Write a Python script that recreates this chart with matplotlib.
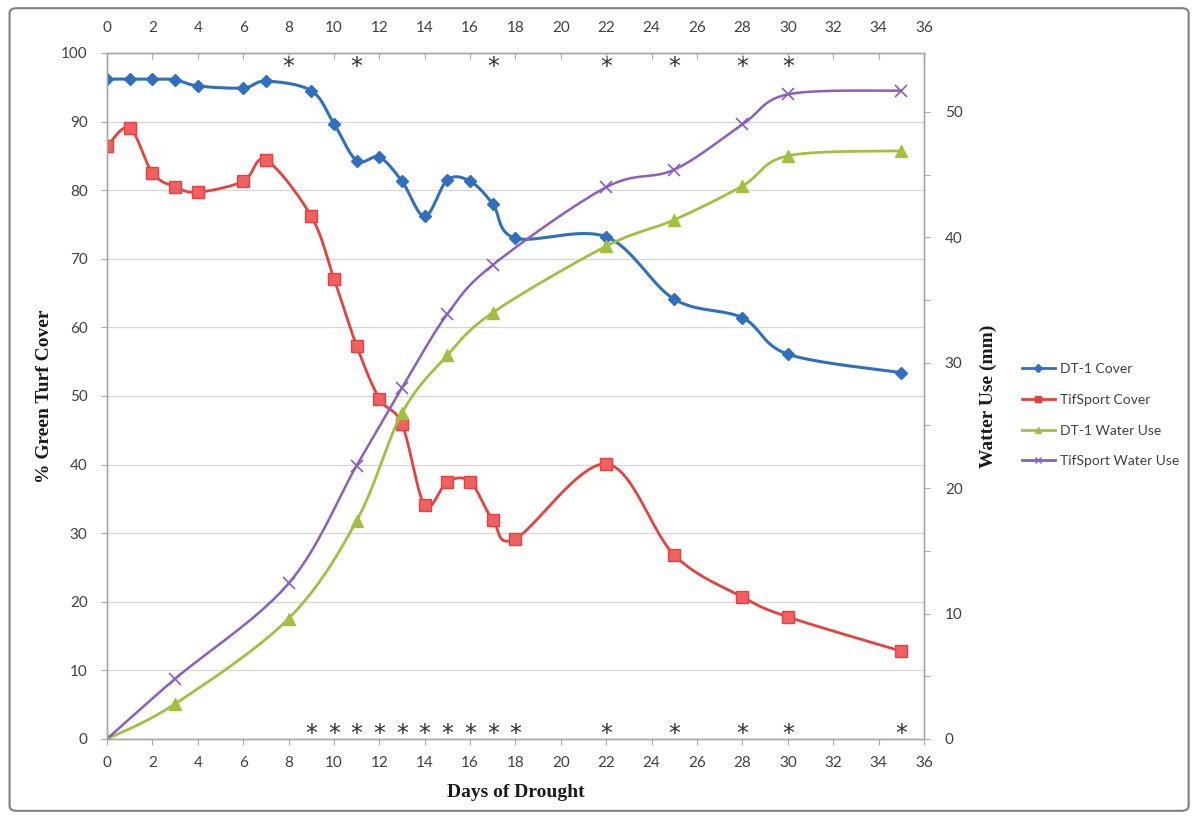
import numpy as np
import matplotlib
matplotlib.use("Agg")
import matplotlib.pyplot as plt
from matplotlib.patches import FancyBboxPatch

# Days of drought
days_cover = [0, 1, 2, 3, 4, 6, 7, 9, 10, 11, 12, 13, 14, 15, 16, 17, 18, 22, 25, 28, 30, 35]
dt1_cover = [96.2, 96.2, 96.2, 96.1, 95.2, 94.9, 95.9, 94.5, 89.7, 84.3, 84.8, 81.3,
             76.2, 81.5, 81.3, 78.0, 73.0, 73.2, 64.1, 61.4, 56.1, 53.4]
tif_cover = [86.4, 89.1, 82.5, 80.5, 79.7, 81.3, 84.4, 76.2, 67.1, 57.3, 49.6, 45.9,
             34.1, 37.5, 37.5, 31.9, 29.2, 40.1, 26.8, 20.7, 17.8, 12.8]

days_water = [0, 3, 8, 11, 13, 15, 17, 22, 25, 28, 30, 35]
dt1_water = [0, 2.8, 9.6, 17.4, 26.0, 30.6, 34.0, 39.3, 41.4, 44.1, 46.5, 46.9]
tif_water = [0, 4.8, 12.4, 21.8, 28.0, 33.9, 37.8, 44.0, 45.4, 49.0, 51.4, 51.7]

# significance markers
sig_top = [8, 11, 17, 22, 25, 28, 30]
sig_bottom = [9, 10, 11, 12, 13, 14, 15, 16, 17, 18, 22, 25, 28, 30, 35]


def smooth(x, y, n=20):
    # Catmull-Rom style bezier smoothing through each point
    x = np.asarray(x, float)
    y = np.asarray(y, float)
    xs, ys = [x[0]], [y[0]]
    for i in range(len(x) - 1):
        p0 = np.array([x[max(i - 1, 0)], y[max(i - 1, 0)]])
        p1 = np.array([x[i], y[i]])
        p2 = np.array([x[i + 1], y[i + 1]])
        p3 = np.array([x[min(i + 2, len(x) - 1)], y[min(i + 2, len(x) - 1)]])
        c1 = p1 + (p2 - p0) / 6
        c2 = p2 - (p3 - p1) / 6
        t = np.linspace(0, 1, n)[1:, None]
        pts = ((1 - t) ** 3 * p1 + 3 * (1 - t) ** 2 * t * c1
               + 3 * (1 - t) * t ** 2 * c2 + t ** 3 * p2)
        xs.extend(pts[:, 0])
        ys.extend(pts[:, 1])
    return xs, ys


c_blue = "#2f6fc0"
c_red = "#e8403c"
c_green = "#a2c040"
c_purple = "#8a5fbf"
grey = "#404040"

plt.rcParams["font.family"] = ["Lato", "DejaVu Sans"]

fig = plt.figure(figsize=(11.97, 8.19), dpi=100)
fig.patches.append(FancyBboxPatch((0.008, 0.01), 0.985, 0.98, boxstyle="round,pad=0,rounding_size=0.006",
                                  transform=fig.transFigure, fill=False, ec="#7f7f7f", lw=1.5))
ax = fig.add_axes([0.0894, 0.0977, 0.6825, 0.8376])
ax2 = ax.twinx()
ax_top = ax.twiny()

ax.set_xlim(0, 36)
ax.set_ylim(0, 100)
ax2.set_ylim(0, 54.7)
ax_top.set_xlim(0, 36)

ax.set_yticks(np.arange(0, 101, 10))
ax.set_xticks(np.arange(0, 37, 2))
ax_top.set_xticks(np.arange(0, 37, 2))
ax2.set_yticks(np.arange(0, 51, 10))
ax2.set_yticks(np.arange(0, 55, 5), minor=True)
ax.grid(axis="y", color="#d6d6d6", lw=0.9)
ax.set_axisbelow(True)

for a in (ax, ax2, ax_top):
    for s in a.spines.values():
        s.set_color("#a6a6a6")
        s.set_linewidth(0.9)
    a.tick_params(colors="#a6a6a6", labelcolor=grey, labelsize=11, length=4, width=0.8)
ax_top.tick_params(axis="x", direction="in", pad=13)
ax.tick_params(axis="x", pad=8)
ax.tick_params(axis="y", pad=10)
ax2.tick_params(axis="y", pad=11)
ax2.tick_params(axis="y", which="minor", colors="#a6a6a6", length=4, width=0.8)

# cover lines on left axis
xs, ys = smooth(days_cover, dt1_cover)
ax.plot(xs, ys, color=c_blue, lw=2.2, zorder=4)
ax.plot(days_cover, dt1_cover, ls="none", marker="D", ms=6.5, color=c_blue, zorder=5)
xs, ys = smooth(days_cover, tif_cover)
ax.plot(xs, ys, color=c_red, lw=2.0, zorder=4)
ax.plot(days_cover, tif_cover, ls="none", marker="s", ms=8, color=c_red, mfc="#f06060", zorder=5)

# water use on right axis
xs, ys = smooth(days_water, dt1_water)
ax2.plot(xs, ys, color=c_green, lw=2.0, zorder=4)
ax2.plot(days_water, dt1_water, ls="none", marker="^", ms=8.5, color=c_green, zorder=5)
xs, ys = smooth(days_water, tif_water)
ax2.plot(xs, ys, color=c_purple, lw=1.8, zorder=4)
ax2.plot(days_water, tif_water, ls="none", marker="x", ms=9, mew=1.2, color=c_purple, zorder=5)

for d in sig_top:
    ax.text(d, 97.9, "*", ha="center", va="center", fontsize=17, color="#333333",
            family="DejaVu Sans")
for d in sig_bottom:
    ax.text(d, 0.7, "*", ha="center", va="center", fontsize=17, color="#333333",
            family="DejaVu Sans")

serif = ["Liberation Serif", "DejaVu Serif"]
ax.set_ylabel("% Green Turf Cover", family=serif, fontweight="bold", fontsize=14,
              color="#1a1a1a", labelpad=6)
ax2.set_ylabel("Watter Use (mm)", family=serif, fontweight="bold", fontsize=14,
               color="#1a1a1a", labelpad=12)
ax.set_xlabel("Days of Drought", family=serif, fontweight="bold", fontsize=14,
              color="#1a1a1a", labelpad=10)

handles = [
    plt.Line2D([], [], color=c_blue, marker="D", ms=4, lw=2),
    plt.Line2D([], [], color=c_red, marker="s", ms=5, lw=2),
    plt.Line2D([], [], color=c_green, marker="^", ms=4, lw=2),
    plt.Line2D([], [], color=c_purple, marker="x", ms=4, lw=2),
]
labels = ["DT-1 Cover", "TifSport Cover", "DT-1 Water Use", "TifSport Water Use"]
fig.legend(handles, labels, loc="upper left", bbox_to_anchor=(0.843, 0.572),
           frameon=False, fontsize=10, handlelength=2.4, handletextpad=0.4,
           labelspacing=1.35, labelcolor=grey)

fig.savefig("out.png", dpi=100)
